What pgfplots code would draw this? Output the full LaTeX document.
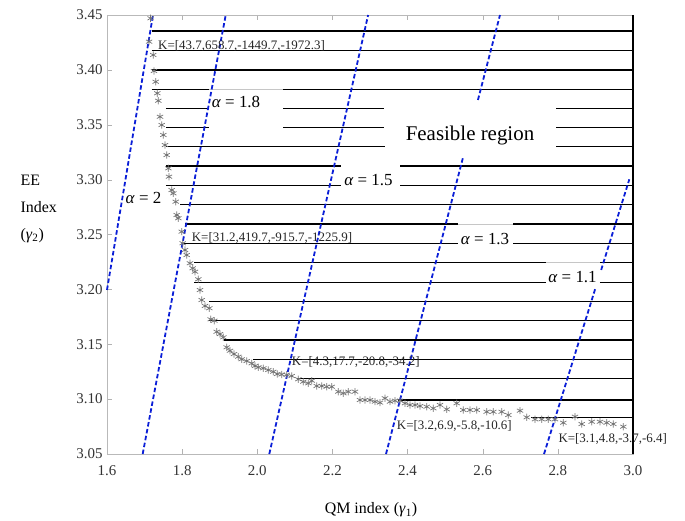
\documentclass[border=0pt]{standalone}
\usepackage{fontspec}
\setmainfont{Liberation Serif}
\usepackage{pgfplots}
\pgfplotsset{compat=1.18}
\definecolor{dblue}{RGB}{10,30,215}
\begin{document}
\begin{tikzpicture}
\path[use as bounding box] (-107bp,-67bp) rectangle (578bp,454bp);
\begin{axis}[
  scale only axis, width=526bp, height=439bp,
  xmin=1.6, xmax=3.0, ymin=3.05, ymax=3.45,
  xtick={1.6,1.8,2.0,2.2,2.4,2.6,2.8,3.0},
  ytick={3.05,3.10,3.15,3.20,3.25,3.30,3.35,3.40,3.45},
  /pgf/number format/assume math mode=true,
  xticklabel style={/pgf/number format/.cd,fixed,fixed zerofill,precision=1,/tikz/.cd,yshift=-8bp},
  yticklabel style={/pgf/number format/.cd,fixed,fixed zerofill,precision=2,/tikz/.cd,xshift=-1bp},
  tick label style={font=\fontsize{15}{18}\selectfont, text=black!80},
  axis line style={draw=gray!55},
  tick style={draw=gray!60},
  major tick length=5bp,
  tick align=inside,
  xtick pos=both, ytick pos=left,
  clip=false,
  unbounded coords=jump,
]
% horizontal hatching lines
\addplot[black, line width=1.1bp] coordinates {
(1.7198,3.4354) (3.0,3.4354) (2,nan)
(1.719,3.4175) (3.0,3.4175) (2,nan)
(1.719,3.3999) (3.0,3.3999) (2,nan)
(1.719,3.3823) (1.8715,3.3823) (2,nan) (2.0685,3.3823) (3.0,3.3823) (2,nan)
(1.757,3.365) (1.8715,3.365) (2,nan) (2.0685,3.365) (2.337,3.365) (2,nan) (2.7951,3.365) (3.0,3.365) (2,nan)
(1.757,3.3473) (1.8715,3.3473) (2,nan) (2.0685,3.3473) (2.337,3.3473) (2,nan) (2.7951,3.3473) (3.0,3.3473) (2,nan)
(1.757,3.33) (2.340,3.33) (2,nan) (2.7951,3.33) (3.0,3.33) (2,nan)
(1.757,3.3124) (2.2228,3.3124) (2,nan) (2.3799,3.3124) (3.0,3.3124) (2,nan)
(1.757,3.2948) (2.2228,3.2948) (2,nan) (2.3799,3.2948) (3.0,3.2948) (2,nan)
(1.7943,3.2772) (3.0,3.2772) (2,nan)
(1.8076,3.2596) (2.5342,3.2596) (2,nan) (2.6806,3.2596) (3.0,3.2596) (2,nan)
(1.7988,3.242) (2.5342,3.242) (2,nan) (2.6806,3.242) (3.0,3.242) (2,nan)
(1.8324,3.2243) (2.768,3.2243) (2,nan) (2.912,3.2243) (3.0,3.2243) (2,nan)
(1.8324,3.2064) (2.768,3.2064) (2,nan) (2.912,3.2064) (3.0,3.2064) (2,nan)
(1.872,3.1888) (3.0,3.1888) (2,nan)
(1.872,3.1715) (3.0,3.1715) (2,nan)
(1.9114,3.1539) (3.0,3.1539) (2,nan)
(1.988,3.1363) (3.0,3.1363) (2,nan)
(2.1057,3.1186) (3.0,3.1186) (2,nan)
(2.375,3.0992) (3.0,3.0992) (2,nan)
(2.7286,3.0834) (3.0,3.0834)
};
% faint box edges
\addplot[gray!45, line width=0.6bp] coordinates {
(1.8715,3.3823) (2.0685,3.3823) (2,nan)
(2.5342,3.2596) (2.6806,3.2596) (2,nan)
(2.768,3.2243) (2.912,3.2243)
};
% right spine
\addplot[black, line width=1.4bp] coordinates {(3.0,3.05) (3.0,3.45)};
% alpha lines
\pgfplotsset{alph/.style={dblue, line width=1.8bp, dash pattern=on 4.5bp off 2.5bp}}
\addplot[alph] coordinates {(1.6,3.1995) (1.7224,3.45)};
\addplot[alph] coordinates {(1.695,3.05) (1.916,3.45)};
\addplot[alph] coordinates {(2.032,3.05) (2.295,3.45)};
\addplot[alph] coordinates {(2.3426,3.05) (2.5486,3.3215)};
\addplot[alph] coordinates {(2.5873,3.3726) (2.646,3.45)};
\addplot[alph] coordinates {(2.7632,3.05) (2.8999,3.201)};
\addplot[alph] coordinates {(2.9153,3.2177) (2.9902,3.3003)};
% Pareto points
\addplot[only marks, mark=asterisk, mark size=3.6bp, gray!90!black, mark options={line width=0.7bp}] coordinates {
(1.716,3.447) (1.712,3.4257) (1.723,3.4136) (1.725,3.399) (1.7296,3.3892)
(1.7339,3.3787) (1.7365,3.3719) (1.7411,3.3573) (1.7456,3.3498) (1.7499,3.3407)
(1.7544,3.3315) (1.7589,3.3224) (1.7632,3.3103) (1.765,3.3027) (1.7722,3.2905)
(1.7765,3.2875) (1.7829,3.2799) (1.7855,3.2678) (1.7898,3.2648) (1.7988,3.2526)
(1.8015,3.242) (1.8076,3.2359) (1.8121,3.2313) (1.8209,3.2238) (1.8281,3.2192)
(1.8342,3.2161) (1.843,3.2092) (1.8475,3.1994) (1.8521,3.1903) (1.8608,3.1849)
(1.8723,3.1828) (1.876,3.1727) (1.8856,3.1715) (1.892,3.1614) (1.9008,3.1593)
(1.9096,3.1563) (1.9186,3.1472) (1.9274,3.1441) (1.938,3.1411) (1.9495,3.1387)
(1.9585,3.1363) (1.9718,3.1347) (1.9852,3.1326) (1.9939,3.1302) (2.0027,3.129)
(2.016,3.1281) (2.0293,3.1265) (2.0426,3.125) (2.0533,3.1229) (2.065,3.1225)
(2.0783,3.1222) (2.0916,3.1211) (2.1092,3.1181) (2.1225,3.1159) (2.1358,3.1144)
(2.1449,3.1168) (2.1582,3.112) (2.1715,3.112) (2.1848,3.1113) (2.1981,3.1113)
(2.2157,3.1068) (2.229,3.1053) (2.2423,3.1068) (2.2601,3.1068) (2.2734,3.0992)
(2.2867,3.0992) (2.3,3.0992) (2.3133,3.0977) (2.3266,3.0968) (2.3399,3.1008)
(2.3533,3.0977) (2.3666,3.0986) (2.3799,3.0986) (2.3932,3.0962) (2.4065,3.0947)
(2.4198,3.0947) (2.4331,3.0937) (2.451,3.0931) (2.4685,3.0916) (2.4863,3.0947)
(2.5042,3.0907) (2.5308,3.0962) (2.5484,3.0901) (2.5662,3.0901) (2.584,3.0901)
(2.6106,3.0885) (2.6282,3.0885) (2.6506,3.0885) (2.6682,3.0855) (2.6993,3.0895)
(2.7171,3.0834) (2.7392,3.0816) (2.757,3.0816) (2.7746,3.0816) (2.7924,3.0816)
(2.8145,3.0785) (2.8457,3.084) (2.8635,3.0773) (2.8901,3.0794) (2.9122,3.0794)
(2.93,3.0785) (2.9476,3.0773) (2.9742,3.0749)
};
% labels
\node[anchor=base west, inner sep=0pt, font=\fontsize{13}{15}\selectfont, text=black!85] at (axis cs:1.7357,3.419) {K=[43.7,658.7,-1449.7,-1972.3]};
\node[anchor=base west, inner sep=0pt, font=\fontsize{13}{15}\selectfont, text=black!85] at (axis cs:1.8254,3.2432) {K=[31.2,419.7,-915.7,-1225.9]};
\node[anchor=base west, inner sep=0pt, font=\fontsize{13}{15}\selectfont, text=black!85] at (axis cs:2.0916,3.1302) {K=[4.3,17.7,-20.8,-34.2]};
\node[anchor=base west, inner sep=0pt, font=\fontsize{13}{15}\selectfont, text=black!85] at (axis cs:2.3711,3.0725) {K=[3.2,6.9,-5.8,-10.6]};
\node[anchor=base west, inner sep=0pt, font=\fontsize{13}{15}\selectfont, text=black!85] at (axis cs:2.8012,3.0605) {K=[3.1,4.8,-3.7,-6.4]};
\node[anchor=base, inner sep=0pt, font=\fontsize{17}{20}\selectfont] at (axis cs:1.6972,3.2778) {\textit{α} = 2};
\node[anchor=base, inner sep=0pt, font=\fontsize{17}{20}\selectfont] at (axis cs:1.9434,3.3659) {\textit{α} = 1.8};
\node[anchor=base, inner sep=0pt, font=\fontsize{17}{20}\selectfont] at (axis cs:2.296,3.2951) {\textit{α} = 1.5};
\node[anchor=base, inner sep=0pt, font=\fontsize{17}{20}\selectfont] at (axis cs:2.6061,3.2413) {\textit{α} = 1.3};
\node[anchor=base, inner sep=0pt, font=\fontsize{17}{20}\selectfont] at (axis cs:2.839,3.2064) {\textit{α} = 1.1};
\node[anchor=base, inner sep=0pt, font=\fontsize{21}{24}\selectfont] at (axis cs:2.5662,3.3361) {Feasible region};
\end{axis}
\node[anchor=west, align=left, font=\fontsize{16}{27}\selectfont] at (-90bp,245bp) {EE\\Index\\(\textit{γ}\textsubscript{2})};
\node[font=\fontsize{16}{19}\selectfont] at (264bp,-56bp) {QM index (\textit{γ}\textsubscript{1})};
\end{tikzpicture}
\end{document}
